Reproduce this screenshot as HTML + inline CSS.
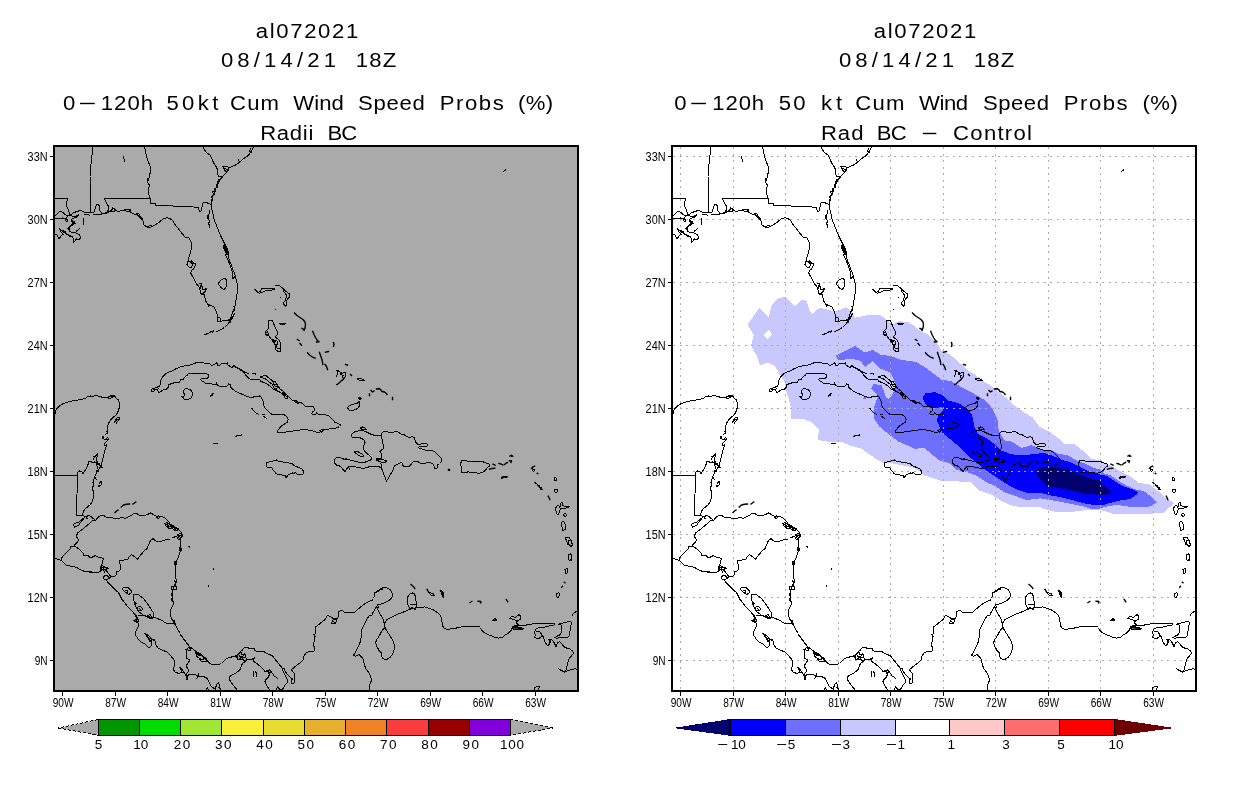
<!DOCTYPE html>
<html><head><meta charset="utf-8"><title>al072021 wind speed probs</title>
<style>html,body{margin:0;padding:0;background:#fff;}body{width:1236px;height:800px;overflow:hidden;font-family:"Liberation Sans",sans-serif;}svg{display:block;will-change:transform;}text{font-family:"Liberation Sans",sans-serif;fill:#000;}</style>
</head><body>
<svg width="1236" height="800" viewBox="0 0 1236 800">
<rect x="0" y="0" width="1236" height="800" fill="#ffffff"/>
<defs>
<clipPath id="clipL"><rect x="54.0" y="146.0" width="524.0" height="544.6"/></clipPath>
<clipPath id="clipR"><rect x="672.0" y="146.0" width="524.0" height="544.6"/></clipPath>
<g id="coast" fill="none" stroke="#000" stroke-width="1" stroke-linejoin="round" stroke-linecap="square" shape-rendering="crispEdges">
<path d="M93.0,147.0 L91.4,160.0 L90.0,176.0 L90.4,196.0 L91.0,212.4 M150.0,198.6 L104.4,198.6 L107.0,204.0 L109.0,207.0 L108.0,212.0 M123.1,156.3 L124.0,159.0 L124.8,161.8 M54.4,198.6 L67.6,198.6 L66.0,204.0 L69.0,212.0 L70.0,216.0 M70.0,215.5 L74.0,212.5 L80.0,210.5 L82.0,211.0 L84.0,212.2 L90.0,212.0 L94.0,212.0 L96.5,205.0 L98.0,204.0 L99.5,206.0 L100.0,211.0 L102.0,213.5 L106.0,213.5 L108.0,210.0 L110.0,212.0 L112.5,208.0 L115.0,209.0 L116.5,211.0 L120.0,211.0 L124.0,210.0 L126.0,209.5 L130.0,209.5 L130.5,212.0 L134.0,214.0 L137.0,214.5 L140.0,217.0 L142.0,219.5 L143.5,222.0 L144.0,225.0 L146.0,226.5 L148.5,228.0 L151.0,227.0 L154.0,225.5 L156.5,224.0 L159.0,222.5 L161.0,220.5 L164.0,218.5 L167.0,217.8 L170.0,218.5 M111.0,210.0 L114.0,208.5 L116.0,210.0 L114.0,211.5 L111.5,211.5 M124.5,210.0 L129.0,209.2 L130.0,211.0 L127.0,211.8 L124.5,210.0 M136.0,214.0 L138.5,213.5 L140.5,216.5 L142.5,219.0 L140.5,218.5 L138.0,216.0 L136.0,214.0 M147.5,227.0 L149.5,225.5 L152.0,226.0 L150.0,228.0 L147.5,227.0 M85.0,214.5 L90.0,215.2 M93.0,214.7 L97.0,215.0 L102.0,214.5 M105.5,213.0 L107.5,212.0 L109.0,213.0 M54.0,217.0 L56.0,215.0 L59.5,211.5 L63.0,212.2 L65.0,214.5 L67.5,216.0 L70.0,215.5 M67.5,216.0 L66.0,218.5 L62.5,218.0 L60.0,218.5 L56.0,218.2 L54.0,218.5 M65.5,220.0 L67.0,219.5 L68.0,221.0 L66.5,221.8 L65.5,220.0 M70.0,215.5 L75.0,217.0 L79.0,214.5 L77.0,217.0 L73.0,218.5 L71.0,220.0 L74.0,221.5 L75.0,223.5 L72.5,225.0 L69.5,226.5 L68.0,228.5 L69.5,231.0 L72.0,232.5 L76.0,233.0 L79.0,234.5 L80.5,237.0 L79.5,240.0 L76.5,239.0 L75.0,241.0 L73.5,242.0 L74.0,239.5 L72.5,237.0 L70.0,235.5 L67.0,234.0 L65.0,231.5 L62.0,230.5 L59.5,229.0 L61.0,232.0 L63.0,234.5 L61.0,236.0 L59.0,239.0 L58.0,237.0 L57.0,235.0 L54.5,234.0 M71.5,221.0 L73.5,223.0 L71.5,224.5 L69.0,227.0 L70.0,230.0 M83.5,219.0 L83.7,224.5 M79.2,228.5 L78.5,229.5 M77.0,230.5 L76.2,231.5 M60.0,230.0 L62.5,231.5 L65.0,233.0 L67.5,234.8 L70.5,236.5 M253.5,147.0 L252.0,150.0 L250.0,153.0 L248.5,155.5 L245.0,157.5 L242.0,160.0 L239.0,162.5 L236.5,164.5 L233.0,166.2 L229.5,167.5 L228.0,170.0 L226.0,173.0 L223.5,175.5 L221.5,178.0 L219.5,180.5 L218.0,183.5 L216.5,187.0 L215.0,190.5 L214.0,193.5 L212.5,196.5 L211.8,200.0 L211.2,204.0 L211.5,208.0 L212.5,212.0 L213.5,216.0 L214.2,220.0 M250.5,148.5 L249.5,151.0 L251.5,152.0 L252.0,150.0 M238.5,160.0 L239.5,162.5 M222.5,166.5 L225.0,167.0 L227.5,166.5 L229.0,168.5 L228.0,171.0 L226.0,172.0 L224.5,170.0 L223.5,168.0 L222.5,166.5 M225.0,168.5 L227.0,169.5 M219.0,179.5 L217.0,182.0 L219.0,183.0 L216.0,185.0 L217.5,187.0 L214.5,189.0 L216.0,191.0 L212.0,192.0 L214.5,194.0 L211.5,197.0 L213.0,199.0 L211.2,202.0 M210.0,210.0 L209.0,214.0 L208.0,217.0 L209.0,220.0 M203.2,147.0 L204.5,150.0 L207.0,153.0 L210.0,155.0 L211.5,158.0 L213.0,161.5 L214.5,164.5 L216.5,167.0 L217.5,170.0 L217.8,173.5 L218.2,176.5 L221.0,176.5 M144.5,147.0 L145.5,151.0 L146.5,156.0 L148.0,161.0 L150.0,166.0 L151.0,172.0 L149.5,174.5 L149.0,178.0 L147.5,179.0 L148.0,183.0 L149.5,185.0 L148.5,189.0 L148.2,193.0 L149.5,196.0 L150.0,198.0 L150.5,203.0 L152.5,204.0 L155.0,203.5 L155.5,205.0 M147.5,178.5 L148.5,180.0 L147.5,182.0 L148.8,184.0 M155.5,205.0 L169.0,205.8 L183.0,206.5 L198.0,207.2 L199.0,210.0 L200.0,212.0 L201.5,211.5 L202.0,207.0 L203.0,203.0 L205.0,202.2 L209.0,203.5 L211.2,204.5 M170.0,218.5 L173.0,221.0 L175.0,224.5 L178.0,228.0 L180.0,231.0 L183.0,234.5 L185.0,237.0 L188.5,237.5 L190.5,240.5 L191.8,244.0 L191.5,248.0 L190.5,252.5 L189.0,257.0 L188.5,260.0 L189.5,261.5 L191.5,261.0 L193.5,263.0 L195.5,264.0 L195.0,266.5 L193.0,269.5 L191.5,270.5 L190.5,273.0 L191.5,275.0 L193.0,277.0 L194.5,280.0 L196.0,283.0 L197.5,285.0 L199.0,287.0 L200.0,290.0 L201.0,294.0 M188.5,260.0 L187.0,264.5 L189.5,267.5 L191.5,267.0 L193.0,265.0 L191.5,263.0 L190.0,262.0 M190.5,272.5 L191.8,273.5 M199.0,284.0 L201.0,283.5 L202.0,286.5 L203.0,290.0 L205.5,288.5 L206.5,289.0 L204.0,293.0 L202.0,294.5 L200.0,292.0 M200.0,285.0 L200.5,289.0 M208.0,215.0 L207.5,218.0 L209.5,221.0 L208.5,224.0 L210.0,226.0 L209.0,228.0 M214.2,220.0 L214.8,222.0 L216.0,224.0 L217.5,228.0 L219.5,233.0 L221.5,237.5 L223.5,241.5 L225.5,245.0 L227.0,248.0 L228.5,252.0 L228.0,255.0 L229.0,259.0 L230.5,263.0 L232.0,267.0 L233.5,271.0 L235.0,275.0 L236.0,279.0 L237.2,284.0 L238.0,288.0 L237.8,291.0 M223.0,246.0 L224.5,245.0 L226.0,248.0 L227.5,252.0 L227.0,255.0 L226.0,253.0 L224.5,250.0 L223.0,246.0 M224.5,247.0 L226.5,252.5 M225.5,255.0 L228.0,260.0 L230.0,265.0 L232.0,271.0 L232.5,275.0 L233.0,279.0 L234.5,277.0 M218.0,284.0 L221.0,280.0 L224.0,278.2 L226.5,279.5 L227.0,284.0 L225.5,288.0 L224.0,289.5 L221.5,288.0 L218.0,284.0 M255.0,289.5 L258.0,292.5 L260.0,291.5 L262.0,288.5 L266.0,289.0 L270.0,288.5 L274.0,288.0 L274.5,289.5 L270.0,290.5 L265.0,291.0 L260.5,293.0 L259.0,293.2 M201.0,294.0 L202.0,294.5 L204.0,294.0 L205.0,298.0 L206.0,301.5 L208.0,304.5 L211.0,305.5 L213.5,306.5 L215.0,309.0 L216.5,312.5 L217.5,316.0 L217.0,319.0 L218.5,321.5 L221.0,322.0 L222.5,320.5 L225.5,321.0 L228.5,320.0 L231.0,318.0 L233.0,316.0 L234.5,314.0 M201.5,294.5 L203.5,293.5 L205.0,291.0 L206.5,288.5 M217.0,319.0 L218.0,317.5 L220.0,318.0 L221.0,320.0 L219.5,321.8 L217.5,321.0 L217.0,319.0 M207.5,303.5 L208.5,306.0 M237.7,286.5 L237.5,289.0 L237.0,294.0 L236.2,299.0 L235.5,304.0 L234.5,308.0 L233.0,311.0 L232.0,314.0 L231.0,317.0 L230.0,320.0 L229.5,322.5 M234.0,306.5 L235.0,309.0 L233.5,311.5 M205.0,334.5 L208.0,333.5 L211.0,332.0 L213.5,331.0 M210.5,331.5 L212.5,332.0 M217.0,331.5 L221.0,329.5 L224.5,327.5 L227.5,324.5 L230.0,321.5 L232.0,318.5 L234.0,315.0 M229.5,319.5 L231.0,321.0 L230.0,323.0 M276.0,285.5 L280.0,286.0 L282.5,288.0 L285.0,290.5 L287.5,292.5 L289.5,294.0 L289.5,297.5 L287.5,298.5 L286.5,301.0 L286.5,304.5 L285.5,306.5 L284.0,304.5 L283.5,302.5 L285.0,301.0 L286.0,298.0 L286.5,295.0 L284.5,292.5 L283.0,290.0 M268.5,321.0 L270.0,320.0 L272.5,321.0 L274.0,324.5 L275.5,328.0 L277.5,331.5 L277.0,335.0 L275.0,337.0 L277.0,338.5 L278.5,339.5 L280.0,342.0 L280.5,346.0 L280.5,351.0 L278.0,351.5 L276.0,350.0 L275.5,346.0 L274.5,343.0 L272.5,341.0 L270.5,338.0 L268.5,335.5 L266.5,335.0 L265.2,333.0 L266.0,331.0 L268.0,329.0 L269.0,325.0 L268.5,321.0 M274.0,340.5 L277.0,341.0 L278.0,344.0 L276.0,345.0 L277.0,348.0 L279.5,348.5 M273.0,339.5 L275.0,342.0 L276.0,340.5 M266.0,332.5 L267.5,332.0 L268.5,334.0 L267.0,335.0 L265.5,334.0 L266.0,332.5 M280.0,323.5 L283.0,324.0 L286.0,323.2 L283.5,324.8 L280.5,324.5 L280.0,323.5 M151.0,390.0 L152.5,388.5 L155.0,388.0 L157.5,387.0 L159.5,386.5 L160.5,384.0 L160.5,381.0 L161.5,378.5 L163.5,376.0 L166.0,373.5 L169.0,372.0 L173.0,370.5 L176.5,368.5 L180.0,367.0 L184.0,366.0 L188.0,365.5 L192.0,364.5 L195.5,363.0 L198.5,362.2 L202.5,362.5 L206.0,363.5 L210.0,364.0 L211.5,365.5 L214.0,364.5 L216.0,363.5 L217.0,362.5 L217.5,365.5 L219.0,366.0 L221.0,364.0 L223.0,363.5 L225.0,364.0 L227.5,362.5 L228.0,365.0 L230.0,366.5 L232.5,367.5 L234.0,365.0 L235.5,367.0 L237.5,368.5 L240.0,369.5 L244.5,373.0 L246.0,375.5 L248.0,377.5 L250.0,379.0 L254.0,379.5 L257.0,379.5 L260.0,380.0 M234.0,366.5 L237.5,368.0 L240.0,369.0 L243.0,371.0 L246.0,372.5 L249.0,374.0 M151.0,390.0 L152.0,391.5 L154.0,391.0 L155.5,389.5 L157.5,390.0 L159.0,392.5 L161.5,391.0 L164.0,389.5 L166.5,389.0 L168.5,387.0 L169.0,384.5 L172.0,383.5 L175.0,382.5 L179.0,382.5 L180.5,380.0 L183.0,379.5 L185.0,377.0 L187.0,375.5 L189.0,373.0 L193.0,373.5 L197.0,373.5 L202.0,373.5 L206.0,373.5 L208.5,375.0 L208.8,377.0 L207.0,378.5 L203.0,378.5 L200.0,379.2 L202.0,381.0 L204.5,382.5 L206.5,384.0 L210.0,383.5 L213.5,384.5 L216.0,385.0 L216.5,382.5 L217.2,385.0 L219.0,386.2 L223.0,386.2 L227.0,386.2 L228.5,384.0 L230.0,384.5 L230.5,387.0 L232.5,389.0 L235.0,391.0 L237.5,392.5 L240.0,393.5 L243.0,394.5 L246.0,396.0 L249.0,397.0 L252.0,397.5 L255.0,396.5 L258.0,396.0 L260.0,396.2 M152.5,388.5 L153.5,390.0 L155.5,389.5 M157.5,387.0 L158.5,388.5 L157.5,390.0 M183.5,390.5 L185.5,388.5 L188.0,389.0 L190.0,389.5 L192.0,391.5 L192.5,394.5 L191.5,397.5 L189.0,399.0 L186.0,399.5 L184.0,399.0 L182.5,397.0 L181.2,396.2 L183.5,396.5 L184.5,395.0 L183.8,393.0 L183.5,390.5 M210.0,396.0 L211.5,394.5 L213.5,393.2 L212.5,395.0 L210.5,396.5 L210.0,396.0 M259.5,379.5 L261.0,381.5 L264.0,382.5 L267.0,384.0 L270.0,386.0 L272.5,388.5 L275.0,390.0 L278.0,391.5 L281.0,393.0 L284.0,395.0 L286.5,396.5 L289.0,397.0 L291.5,399.5 L293.0,401.0 L296.0,400.5 L298.0,402.5 L301.0,402.5 L303.0,404.0 L305.0,406.0 L308.0,406.2 L311.0,406.5 L313.5,407.0 L314.5,409.0 L314.0,411.0 L312.5,412.0 L311.5,413.5 L313.0,414.8 L315.5,414.5 L316.5,413.0 L319.0,414.5 L322.0,414.8 L326.0,415.0 L329.0,416.0 L331.0,418.0 L333.0,420.0 L335.0,422.5 L338.0,423.2 L340.5,425.0 L339.5,426.5 L336.5,428.0 L333.0,428.5 L329.0,429.0 L326.0,430.0 L324.0,429.0 L322.5,431.5 L320.0,432.0 L317.0,432.2 L314.5,431.5 L312.0,430.5 L308.0,430.0 L304.0,429.5 L300.0,430.0 L296.0,430.5 L292.0,431.2 L288.0,431.8 L284.0,432.2 L280.0,432.8 L277.8,433.0 L277.2,431.5 L278.5,429.5 L280.0,427.5 L282.0,425.5 L284.5,424.0 L287.0,422.5 L288.2,420.0 L287.5,417.5 L285.5,415.5 L283.5,414.5 L280.0,415.0 L277.0,414.8 L274.0,415.0 L271.5,414.0 L269.5,412.5 L267.5,410.5 L265.5,408.5 L264.0,406.0 L263.5,403.0 L262.5,399.5 L261.0,397.0 L259.5,395.5 M260.0,377.0 L263.0,376.0 L265.5,375.2 L267.5,377.0 L270.0,379.0 L273.0,381.0 L275.5,381.5 L276.5,384.0 L278.5,386.5 L279.5,388.5 L281.5,390.0 L284.0,392.0 L286.0,394.0 L287.8,395.5 L287.5,398.0 L285.5,398.5 L284.0,396.0 L282.0,394.0 L280.0,392.0 L277.5,390.5 L275.0,389.5 L273.5,387.0 L272.5,384.5 L270.5,383.0 L268.0,381.0 L265.5,379.0 L263.0,378.0 L260.0,377.0 M273.0,381.5 L275.0,386.0 L277.5,387.0 M274.0,388.0 L276.5,389.0 M283.0,392.5 L285.5,395.0 L284.5,397.0 M273.5,384.0 L276.0,385.0 M292.0,400.0 L294.5,401.2 L297.0,403.2 L299.0,404.0 M253.0,373.5 L255.5,374.0 M252.0,408.5 L254.0,411.0 L256.0,413.0 L258.5,414.5 M262.0,414.5 L264.5,414.5 M264.0,416.5 L266.5,418.5 M347.5,408.0 L349.0,406.0 L351.5,404.5 L354.5,404.0 L357.0,403.5 L358.5,402.0 L359.8,401.0 L360.0,404.0 L359.0,406.5 L357.5,408.5 L355.0,409.8 L352.0,410.5 L349.0,410.0 L347.5,408.0 M358.5,398.0 L360.0,397.2 L361.2,398.5 L360.0,399.5 L358.5,398.0 M320.0,430.5 L323.0,429.0 L321.5,432.0 M336.2,370.5 L338.5,371.0 L340.0,372.0 L342.0,373.5 L344.0,372.5 L345.5,373.0 L345.8,375.5 L344.5,377.5 L343.0,379.5 L340.5,381.5 L338.5,383.5 L337.0,384.5 M338.0,371.5 L337.5,374.5 L336.5,376.0 M340.5,372.5 L341.0,374.5 L343.5,375.5 L342.5,377.0 M357.5,378.3 L360.5,378.5 L363.5,379.3 L364.8,380.8 L362.0,380.5 L359.0,380.0 L357.5,379.5 L357.5,378.3 M351.5,436.0 L352.0,434.0 L354.0,432.2 L357.0,431.2 L360.0,430.8 L363.0,430.5 L365.5,431.5 L368.0,432.8 L371.0,434.2 L374.0,435.2 L377.0,435.0 L379.0,435.8 L381.5,435.0 L382.0,433.0 L384.0,431.5 L387.0,431.8 L389.5,432.5 L392.0,433.0 L394.0,431.8 L397.0,431.2 L399.0,432.5 L400.5,433.8 L403.5,434.5 L406.0,435.8 L408.0,437.0 L410.5,437.2 L412.5,436.5 L414.0,437.5 L415.0,440.0 L416.0,442.5 L417.5,444.0 L419.5,444.5 L422.0,443.5 L425.0,443.2 L427.0,444.0 L427.2,445.8 L425.5,446.5 L422.5,446.8 L420.0,446.5 L418.5,447.5 L419.5,448.8 L422.0,449.0 L425.0,450.0 L428.5,450.8 L432.0,450.8 L434.5,451.5 L436.5,453.5 L438.5,455.5 L440.5,457.5 L441.8,459.5 L441.0,462.0 L439.5,463.5 L438.0,464.5 L437.5,467.5 L436.2,469.0 L434.5,468.5 L434.0,466.0 L433.0,464.0 L431.0,463.0 L428.5,462.5 L426.0,463.0 L423.0,463.5 L420.0,463.0 L418.0,461.5 L415.0,461.2 L412.5,462.2 L411.0,464.5 L409.5,466.0 L407.0,466.8 L404.5,467.0 L403.0,465.5 L402.2,463.0 L400.5,462.5 L399.0,463.5 L396.5,464.8 L394.5,466.0 L393.5,468.5 L392.5,471.0 L391.0,473.5 L389.5,476.0 L388.0,479.0 L386.5,481.0 L385.5,479.5 L385.0,477.0 L384.0,475.0 L383.0,472.0 L382.0,469.5 L380.5,467.5 L378.5,466.5 L375.5,466.2 L372.0,466.5 L368.5,467.0 L365.0,468.0 L362.0,468.2 L359.0,467.8 L356.0,467.0 L353.0,466.5 L350.0,466.5 L348.0,467.0 L346.5,469.0 L345.0,471.5 L343.5,470.0 L342.0,468.0 L339.5,466.0 L336.5,465.0 L334.8,463.5 L334.2,461.0 L335.0,459.0 L337.0,457.5 L339.5,457.5 L342.0,458.5 L345.0,459.5 L347.5,459.2 L350.0,460.0 L353.0,460.8 L356.0,461.5 L359.0,462.2 L362.0,462.5 L365.0,462.2 L367.5,461.2 L370.0,460.5 L371.5,459.0 L371.0,457.0 L369.5,455.5 L367.5,454.0 L365.5,452.0 L364.0,450.0 L363.2,447.5 L364.0,445.0 L365.0,442.5 L364.5,440.5 L362.5,439.0 L360.0,437.8 L357.0,437.2 L354.0,437.5 L352.0,437.0 L351.5,436.0 M360.5,428.0 L362.5,427.0 L364.5,427.8 L366.5,429.2 L364.5,429.8 L362.0,429.5 L360.5,428.0 M354.5,452.0 L356.5,451.2 L359.0,452.2 L361.5,453.8 L363.5,455.5 L363.0,456.8 L360.5,456.2 L358.0,454.8 L355.8,453.5 L354.5,452.0 M381.5,435.0 L382.0,439.0 L382.5,442.5 L383.5,445.5 L383.5,448.5 L381.5,450.0 L379.5,451.8 L381.5,453.2 L382.0,456.0 L381.0,458.5 L379.5,459.5 M380.0,463.0 L382.0,465.0 L381.5,467.5 L382.0,469.5 M376.5,459.0 L378.5,458.5 L381.0,459.5 L384.0,460.0 L386.5,461.0 L385.5,462.2 L383.0,462.5 L380.5,461.8 L378.0,461.0 L376.5,460.2 L376.5,459.0 M376.8,459.2 L378.8,459.0 L378.5,460.2 L377.0,460.0 M345.0,459.0 L346.5,458.5 L348.0,460.0 M346.5,469.0 L348.5,467.5 L349.5,469.0 M364.0,441.0 L365.2,443.0 M266.0,465.0 L266.5,463.0 L269.0,462.0 L272.5,461.8 L273.5,460.2 L276.5,460.0 L278.5,461.2 L282.0,461.8 L285.0,462.5 L288.5,463.0 L292.0,463.5 L293.5,465.2 L296.0,466.5 L299.0,467.5 L301.5,468.5 L303.0,470.5 L303.8,472.5 L303.0,474.2 L300.0,474.5 L297.0,474.0 L295.5,472.5 L293.0,473.2 L290.0,474.0 L288.0,475.0 L287.5,477.0 L285.5,477.2 L284.5,475.5 L281.5,474.8 L278.5,474.5 L276.0,473.5 L274.5,471.5 L273.2,470.2 L272.0,468.0 L269.0,467.8 L266.5,466.8 L266.0,465.0 M285.0,475.8 L287.2,476.2 M292.5,472.8 L294.0,473.5 M460.5,464.0 L461.5,461.0 L463.5,460.2 L466.5,461.0 L470.0,461.2 L474.0,461.2 L478.0,461.2 L480.0,461.0 L482.5,461.5 L484.5,462.5 L487.0,463.2 L489.0,464.0 L489.2,466.2 L487.5,467.5 L486.2,469.5 L484.5,471.0 L482.5,472.2 L480.0,473.0 L478.0,473.5 L475.5,472.2 L473.0,472.0 L470.0,472.2 L468.0,471.8 L465.5,473.0 L463.0,472.5 L461.2,472.5 L461.2,469.5 L461.8,467.0 L460.5,465.5 L460.5,464.0 M501.2,478.2 L502.5,477.0 L505.0,476.5 L508.0,476.5 L506.0,477.5 L503.0,478.0 L501.2,478.2 M532.5,469.0 L534.0,469.5 L534.5,471.0 L533.0,471.2 L532.2,470.0 L532.5,469.0 M554.5,477.8 L556.0,478.0 L556.5,479.5 L556.5,481.0 L555.0,480.8 L554.5,479.5 L554.5,477.8 M554.5,490.0 L556.0,489.2 L557.5,490.0 L557.8,491.8 L556.0,492.5 L554.5,491.5 L554.5,490.0 M537.5,484.5 L539.0,485.5 L540.0,487.0 L541.5,488.0 L542.5,490.0 L541.0,489.5 L539.5,487.5 L538.0,486.0 L537.5,484.5 M555.7,508.2 L556.7,506.0 L558.7,505.7 L560.2,508.2 L559.7,512.0 L558.2,514.7 L556.3,513.5 L555.7,508.2 M560.2,506.7 L560.8,503.0 L562.0,502.2 L562.7,505.2 L565.0,506.7 L568.0,506.3 L569.5,506.7 L565.7,508.2 L562.7,508.7 L560.2,508.2 M563.8,514.2 L565.7,513.5 L566.8,515.0 L565.3,516.5 L563.8,515.7 L563.8,514.2 M54.0,414.0 L55.5,410.5 L57.0,408.5 L59.5,406.0 L62.5,404.0 L66.0,402.5 L70.0,401.5 L74.5,400.5 L79.0,399.8 L83.0,399.0 L86.0,398.0 L88.0,396.5 L90.5,396.0 L93.0,396.2 L95.5,395.5 L98.0,396.0 L101.0,396.8 L103.0,397.8 L106.0,397.5 L108.5,397.0 L111.0,396.5 L113.5,395.2 L115.0,396.5 L116.5,398.5 L118.0,399.5 L119.0,402.0 L119.5,405.0 L119.2,408.0 L118.2,411.0 L116.8,414.0 L115.0,416.0 L113.0,417.5 L111.0,419.5 L109.5,421.5 L108.2,424.0 L107.5,427.0 L107.0,430.0 L107.2,432.5 L106.0,434.0 L104.5,435.5 L103.0,436.5 L102.8,438.5 L104.5,439.5 L106.5,439.0 L107.5,437.5 L108.5,439.0 L107.0,441.0 L105.5,442.5 L104.0,444.0 L105.0,445.5 L107.0,444.5 L106.0,447.0 L105.0,450.0 L104.2,453.0 L103.5,456.0 L102.8,459.0 L102.5,460.2 M108.0,397.0 L110.5,396.0 L113.5,395.5 L112.5,397.5 L110.0,398.5 L108.0,398.0 L108.0,397.0 M114.5,422.5 L116.0,419.5 L117.5,417.5 L119.5,417.2 L119.0,419.5 L117.5,421.5 L116.2,423.8 M115.5,421.0 L117.2,419.5 M93.0,460.0 L94.5,457.0 L96.0,455.0 L97.5,453.5 L97.0,457.0 L96.8,460.0 L97.5,462.5 M94.0,456.5 L95.5,455.5 M54.5,410.5 L56.0,411.0 L55.5,413.0 M102.5,436.5 L104.0,438.0 M106.5,431.5 L107.5,433.0 M102.8,458.5 L102.0,462.0 L101.0,465.5 L102.5,468.0 L100.5,467.0 L99.0,469.0 L98.0,472.0 L97.0,470.0 L96.5,472.5 L95.5,475.0 L94.5,477.5 L93.5,480.0 L93.0,482.5 L93.5,485.0 L92.5,488.0 L93.0,490.5 L94.0,493.5 L93.5,497.0 L92.8,500.0 L91.5,503.0 L90.0,505.0 L88.0,506.5 L85.5,508.5 L84.0,510.5 L83.0,513.0 L81.8,515.5 M89.0,461.5 L91.0,461.0 L92.5,463.0 L94.5,462.0 L96.5,462.5 L97.5,464.5 L99.5,463.5 L100.0,466.0 L101.5,467.0 M94.0,458.0 L95.5,456.0 L97.0,455.0 M97.0,459.0 L96.5,462.5 L97.0,466.0 L97.5,469.0 M89.0,461.5 L88.0,464.5 L86.5,468.0 L84.5,471.5 L83.0,474.0 L82.0,472.0 L79.5,471.0 L77.5,472.5 L77.2,475.5 M77.2,475.5 L77.0,495.0 L76.8,505.0 L76.8,515.5 L81.8,515.5 M54.0,475.5 L77.2,475.5 M100.5,481.5 L101.5,482.0 L101.2,484.5 L100.0,486.0 L98.5,486.5 L99.5,484.5 L100.0,482.5 L100.5,481.5 M95.5,478.0 L96.5,479.5 M93.5,481.5 L94.0,483.0 M81.8,515.5 L84.0,516.0 L86.5,517.5 L88.0,515.0 L90.0,516.0 L92.0,517.5 L94.0,519.0 L95.5,520.5 M73.5,524.5 L76.0,523.0 L79.0,522.2 L82.0,519.0 L84.5,517.5 L82.5,520.0 L80.0,523.0 L79.0,525.0 L76.5,526.2 L74.5,527.2 L73.5,524.5 M86.8,518.2 L87.4,518.8 M95.5,520.5 L98.0,517.5 L100.5,515.5 L103.0,515.2 L105.5,516.5 L107.0,518.0 L110.0,517.5 L114.0,518.2 L118.0,518.2 L122.0,517.8 L126.0,518.2 L129.0,516.5 L132.0,514.8 L134.5,513.2 L137.0,513.5 L139.0,515.0 L142.0,515.2 L146.0,515.0 L148.5,514.0 L150.5,513.0 L153.0,514.2 L155.0,515.5 L157.5,516.5 L160.0,516.2 L162.0,516.5 L164.5,517.5 L166.5,519.5 L168.5,521.5 L170.0,523.0 M156.5,517.0 L158.5,516.0 L160.0,517.2 L158.0,518.5 L156.5,517.0 M95.5,520.5 L93.0,520.0 L90.0,523.0 L87.0,525.5 L84.0,528.0 L81.0,530.5 L78.0,532.5 L77.0,535.0 M164.5,523.5 L167.0,522.5 L170.0,524.0 L173.0,525.5 L176.0,527.5 L178.5,529.0 L177.0,530.5 L174.5,530.0 L172.0,528.5 L170.0,529.0 L168.0,527.5 L166.0,526.0 L164.5,523.5 M167.0,523.0 L169.0,528.0 M170.0,524.5 L172.0,528.5 M174.0,526.5 L176.0,530.0 M165.5,524.5 L170.0,526.5 L175.0,528.5 M178.0,534.5 L180.0,533.5 L182.0,534.5 L182.5,536.0 L180.5,538.0 L179.0,539.5 L177.5,538.5 L178.5,536.5 L178.0,534.5 M179.0,537.0 L180.5,535.5 M179.5,548.0 L181.5,548.5 L181.5,550.5 L179.8,550.5 L179.5,548.0 M174.5,561.5 L176.5,561.0 L176.5,565.0 L174.5,564.0 L174.5,561.5 M77.5,532.5 L76.5,535.0 L77.0,537.5 L78.5,540.0 L77.0,542.5 L75.0,544.5 L74.5,546.5 M74.5,546.5 L71.0,546.5 L70.0,549.0 L67.5,551.5 L65.0,554.0 L63.0,556.0 L61.2,558.5 L61.5,560.5 M54.0,557.8 L58.0,559.5 L61.5,560.5 L63.5,562.5 L66.0,565.0 L70.0,566.0 L73.5,566.8 L76.5,567.2 L79.0,569.0 L82.0,570.5 L85.0,571.5 L88.5,572.0 L92.0,572.5 L95.5,573.0 L98.5,572.5 L100.5,571.0 L102.0,569.5 M85.0,571.0 L88.5,571.5 L92.0,572.0 M74.5,546.5 L77.0,547.5 L79.5,549.5 L82.0,552.0 L84.0,554.0 L83.0,556.0 L85.5,555.5 L88.5,556.0 L90.0,558.0 L92.5,557.0 L95.5,555.5 L98.0,557.0 L101.0,557.5 L103.5,559.0 L102.5,561.5 L102.0,564.5 L101.5,567.0 L102.0,569.5 M100.5,567.0 L102.0,565.5 L104.5,567.0 L107.5,568.0 L106.0,570.0 L104.5,572.0 L103.0,569.5 L100.5,569.0 L100.5,567.0 M101.0,566.0 L106.0,571.0 M104.0,566.0 L103.5,571.0 M101.5,570.0 L108.0,568.5 M106.0,570.0 L108.0,573.0 L110.0,575.5 L110.5,577.0 M110.0,576.5 L114.0,576.5 L116.0,575.5 L116.5,572.0 L119.0,571.0 L121.0,569.0 L120.5,565.5 L119.5,562.5 L120.0,560.5 L124.0,560.0 L127.5,559.5 L129.5,556.5 L131.5,554.5 L133.5,556.0 L136.0,558.0 L137.5,559.0 L139.5,556.5 L142.0,553.5 L144.5,550.5 L147.0,548.5 L148.5,545.0 L150.5,540.5 L153.0,538.5 L155.0,540.5 L159.0,542.0 L163.0,540.5 L167.0,539.5 L170.0,539.0 M103.5,577.0 L105.0,575.5 L107.5,576.0 L109.5,578.0 L108.0,579.0 L106.0,580.0 L104.0,579.0 L103.5,577.0 M106.0,580.0 L108.5,583.0 L111.0,585.5 L113.5,588.0 L116.0,590.5 L118.5,592.5 L120.0,595.5 L121.5,598.5 L122.5,600.0 M171.5,586.5 L174.0,586.0 L176.5,586.5 L176.5,589.5 L174.0,589.8 L171.5,589.0 L171.5,586.5 M174.0,580.0 L175.5,582.0 L175.0,586.0 M172.5,591.0 L171.5,595.0 L172.8,597.0 L171.2,600.0 L172.5,601.5 M172.0,594.0 L173.0,596.0 L171.8,598.5 M172.5,619.5 L174.0,620.5 L175.5,624.0 L174.0,623.0 L172.5,619.5 M137.0,608.0 L139.0,606.5 L141.5,607.2 L142.5,609.5 L140.5,611.0 L138.0,610.5 L137.0,608.0 M139.0,608.0 L140.5,609.5 M148.0,615.5 L150.0,614.5 L151.5,616.5 L152.5,618.5 L150.0,619.0 L148.5,617.5 L148.0,615.5 M134.5,601.5 L136.0,603.5 L135.0,604.5 M134.0,620.5 L135.5,619.5 L138.0,619.2 L138.5,621.0 L136.5,622.0 L134.5,621.8 L134.0,620.5 M146.5,636.0 L148.5,638.5 L150.0,642.0 L151.5,641.0 M145.0,633.5 L148.0,637.5 L152.5,640.0 L154.0,639.5 M123.0,588.0 L126.0,587.2 L128.5,587.8 L131.0,590.5 L131.5,592.5 L129.0,594.5 L126.5,593.0 L124.0,591.0 L122.5,589.5 L123.0,588.0 M125.0,590.0 L127.5,591.0 L128.0,593.0 M180.0,634.0 L183.0,638.0 L186.0,642.0 L189.0,646.0 L192.0,648.5 L195.0,650.5 L197.5,652.5 L200.5,654.0 L203.0,656.5 L205.5,659.0 L207.5,661.0 L210.0,663.5 L214.0,665.0 L218.0,664.5 L221.5,663.5 L224.0,661.0 L226.0,659.0 L229.0,657.5 L232.5,656.8 L235.5,656.0 L238.0,654.5 L240.0,652.0 L242.5,650.0 L244.0,648.0 L246.0,647.2 L249.0,648.2 L252.0,649.0 L254.5,648.5 L254.2,650.5 L257.0,651.2 L260.0,651.2 L263.5,651.2 L266.0,653.0 L269.5,654.5 L272.5,656.0 L274.5,658.5 L276.5,661.0 L278.5,663.5 L280.5,666.0 L282.0,668.0 L284.0,668.0 L285.0,671.0 L287.0,674.0 L289.0,676.0 L291.0,678.0 L292.0,679.5 M300.0,663.0 L297.0,665.0 L294.0,667.5 L291.5,669.5 L292.5,671.5 L294.0,673.0 L294.2,677.0 L294.5,681.0 L294.0,683.5 L291.5,683.5 L291.2,680.5 L291.5,678.5 L293.0,678.0 M282.0,668.0 L283.0,671.0 L284.5,674.0 L286.0,677.0 L287.5,680.0 L287.8,682.5 L286.0,684.0 L284.5,686.0 L283.0,688.5 L281.5,690.0 L279.5,689.0 L277.5,687.0 L276.5,689.0 L277.5,690.5 M236.5,657.0 L239.0,654.0 L241.0,652.0 L242.0,655.0 L245.0,653.5 L245.5,657.0 L246.5,659.5 L245.0,662.0 L243.5,660.0 L241.0,659.0 L239.0,659.5 L237.0,659.0 L238.0,657.0 L236.5,657.0 M238.0,654.0 L244.0,660.0 M240.0,658.5 L245.0,654.0 M239.0,656.0 L246.0,658.0 M245.0,662.0 L242.5,663.5 L241.2,666.0 L240.5,669.0 L238.5,671.0 L236.0,673.0 L233.0,674.5 L230.5,675.5 L229.5,677.5 L230.0,680.5 L231.5,683.0 L233.5,685.5 L235.5,688.0 L237.5,690.5 M245.0,660.5 L248.0,659.8 L250.5,659.5 L253.5,658.5 L255.0,657.2 L253.0,659.5 L253.5,661.5 L255.5,662.5 L258.0,664.5 L260.5,666.5 L263.0,669.0 L265.0,671.5 L267.5,672.0 L269.5,670.0 L271.0,671.5 L269.5,674.0 L268.5,677.0 L266.0,679.5 L265.0,681.5 L266.0,684.0 L267.5,687.0 L269.5,689.5 L270.5,690.5 M271.0,671.5 L273.0,674.0 L274.0,676.0 L276.0,677.0 L277.5,678.5 M267.0,670.5 L270.0,673.0 M269.0,670.0 L268.0,674.0 M253.5,672.0 L253.8,676.5 M255.5,672.0 L256.8,673.0 L256.2,676.5 M186.0,649.5 L189.0,647.5 L191.0,649.0 L190.0,650.5 L188.0,650.0 L186.0,649.5 M195.5,652.5 L197.5,653.5 L199.5,654.5 L201.0,656.0 L199.0,655.5 L196.5,654.5 L195.5,652.5 M196.0,655.0 L197.5,657.0 L200.0,658.5 L201.5,660.0 L203.5,659.0 L205.5,657.5 L207.0,659.5 L206.0,661.5 L204.0,661.0 L201.5,661.5 L199.5,659.5 M187.5,648.5 L186.5,651.0 L186.2,655.0 L187.0,658.5 L190.0,660.0 L188.5,662.5 L186.5,665.0 L187.0,667.5 L188.5,669.5 L188.0,672.0 L186.5,673.5 L186.0,675.5 M180.0,668.0 L182.0,669.5 L183.5,672.0 L185.0,674.0 L186.0,675.5 L186.5,680.0 L187.5,679.5 L187.2,675.5 L190.0,674.5 L193.0,674.8 L196.0,675.0 L197.5,675.5 L198.5,674.0 L197.5,677.0 L196.5,679.0 L198.0,677.0 L200.0,676.0 L203.5,676.5 L206.5,678.0 L208.5,680.5 L209.5,683.5 L211.0,686.0 L213.5,688.0 L215.5,689.5 L216.0,686.5 L217.0,684.0 L218.5,683.0 L219.5,685.0 L219.0,687.5 L220.5,689.0 L221.0,690.5 M205.5,690.5 L207.5,688.0 L208.5,690.0 M180.0,667.5 L181.5,669.0 L181.0,672.0 L183.0,673.0 M300.0,663.0 L303.0,660.0 L304.0,656.0 L306.0,653.0 L308.5,651.5 L311.5,651.2 L314.0,651.0 L314.5,648.0 L313.5,645.0 L314.0,642.0 L314.5,639.0 L314.0,636.0 L315.5,633.0 L316.0,630.0 L315.5,627.0 L317.5,625.5 L320.0,623.5 L322.5,621.5 L325.0,619.5 L326.5,617.0 L327.5,615.2 L330.0,616.5 L332.5,618.0 L335.0,618.5 L337.0,619.0 L338.0,617.0 L338.5,614.0 L339.0,611.5 L341.0,610.8 L342.5,610.2 L344.0,612.2 L347.0,612.2 L351.0,612.2 L355.0,612.2 L357.0,610.0 L359.5,608.0 L362.0,605.8 L364.5,604.0 L367.0,602.5 L369.5,601.2 L372.0,600.5 L373.5,598.5 L374.5,596.0 L374.5,592.5 L376.5,592.2 L378.0,590.5 L380.5,589.0 L383.0,587.5 L385.5,587.2 L388.0,588.5 L390.5,590.0 L391.8,592.5 L392.5,595.5 L391.5,598.0 L389.5,600.0 L387.5,601.5 L385.0,602.5 L382.5,603.5 L380.0,604.2 L377.5,604.8 M378.0,592.0 L380.0,590.0 L382.5,589.0 M314.0,634.5 L315.0,636.5 M377.5,604.8 L378.5,606.5 L377.5,608.5 L378.0,610.0 L379.5,613.0 L381.0,615.5 L382.5,618.0 L383.5,620.0 L384.0,622.5 L384.5,625.0 L385.0,627.5 M384.5,628.0 L382.5,630.0 L381.0,632.5 L379.5,635.5 L378.0,638.0 L376.5,640.0 L375.5,643.0 L376.5,645.5 L377.5,648.0 L379.0,650.5 L380.5,652.0 L382.0,654.0 L381.5,656.0 L382.5,658.5 L385.0,659.5 L387.5,659.0 L390.0,657.5 L392.0,655.0 L393.5,652.0 L394.2,649.0 L394.5,645.5 L393.5,642.0 L392.0,639.0 L390.0,636.0 L388.5,633.5 L387.0,631.0 L385.5,629.0 L384.5,628.0 M383.5,622.0 L385.0,625.0 L384.0,627.0 M377.0,648.0 L378.5,649.0 M385.0,623.0 L386.5,619.5 L389.0,618.5 L392.0,617.0 L395.0,615.5 L398.0,614.0 L401.0,613.0 L404.0,611.8 L407.0,610.5 L410.0,609.2 M377.5,604.8 L376.0,607.5 L374.5,610.0 L373.0,612.5 L372.0,615.0 L369.5,615.2 L368.0,617.5 L366.5,620.0 L365.0,623.0 L363.5,626.0 L362.0,629.0 L361.5,632.0 L361.2,635.0 L361.0,638.0 L360.5,641.0 L359.5,644.0 L358.0,647.0 L356.5,650.0 L355.0,653.0 L353.5,655.5 L355.5,656.2 L358.0,655.0 L359.5,654.5 L360.5,656.5 L362.5,657.5 L363.5,660.0 M331.5,623.0 L332.5,620.5 L334.0,619.0 L336.5,619.5 L336.0,622.0 L335.0,623.5 L331.5,623.0 M332.5,621.5 L335.0,622.5 M410.0,609.0 L413.0,608.5 L415.0,609.0 L416.5,607.0 L418.5,608.0 L421.5,607.5 L424.5,606.8 L427.0,607.5 L430.0,608.8 L433.5,610.0 L436.0,611.5 L438.5,613.5 L440.5,615.5 L441.5,618.5 L441.5,621.0 L442.5,623.5 L443.0,626.5 L444.5,628.5 L447.0,629.2 L450.5,629.0 L454.0,628.5 L457.5,627.8 L461.0,627.0 L464.5,626.2 L468.0,626.2 L472.0,626.2 L476.0,626.2 L479.5,626.2 L480.0,626.8 M410.0,609.0 L408.5,606.5 L407.5,603.0 L407.2,599.5 L408.0,596.5 L410.0,594.0 L412.5,593.0 L414.5,594.0 L415.5,597.0 L416.0,600.5 L416.5,604.0 L416.5,607.0 M410.5,604.5 L416.0,604.0 M412.0,607.5 L415.0,609.5 L416.5,607.0 M427.0,589.5 L428.0,591.0 L429.0,593.0 L430.5,594.8 L432.5,596.0 L434.5,595.5 L433.5,594.0 L431.5,593.5 L430.0,592.5 M440.0,590.0 L441.5,591.0 L443.0,592.5 L443.8,595.0 L443.2,597.5 L442.2,596.0 L441.8,594.0 L441.0,592.0 L440.0,590.0 M441.0,619.0 L442.0,622.0 M480.0,628.0 L483.0,631.7 L486.7,634.0 L491.2,635.8 L495.0,637.3 L498.7,638.2 L503.2,637.0 L505.5,634.7 L508.5,633.2 L510.7,631.0 L512.2,628.3 L514.5,626.8 L517.5,626.5 M512.2,626.5 L516.0,625.7 L521.2,625.7 L525.0,625.4 L529.5,624.2 L534.0,623.8 L540.0,623.5 L546.0,623.5 L550.5,623.8 L554.2,623.5 L555.0,624.7 L550.5,625.7 L546.0,626.8 L541.5,627.7 L537.7,628.0 L535.5,629.2 L534.7,631.7 L535.2,634.7 L534.7,637.7 L537.7,638.5 L540.7,637.7 L541.8,634.7 L540.0,631.7 L537.7,631.0 L536.2,631.7 M512.2,627.2 L515.2,628.0 L519.7,627.7 L523.5,628.3 L522.0,629.5 L517.5,629.2 L513.7,629.2 L512.2,627.2 M541.8,634.7 L543.7,637.7 L544.5,640.7 L546.0,643.7 L548.2,646.0 L549.7,643.0 L549.0,640.0 L551.2,639.2 L553.5,641.5 L555.0,644.5 L556.2,646.7 L557.2,643.0 L559.5,641.5 L561.7,643.7 L564.0,646.7 L567.0,648.2 L570.0,649.0 L572.7,651.2 L573.7,653.5 L571.5,655.7 L569.2,658.7 L567.7,662.5 L567.0,666.2 L566.2,670.0 L564.0,671.5 L561.0,670.0 L558.3,668.5 L561.7,670.7 L564.7,672.2 L567.7,670.7 L570.7,669.7 L574.5,668.8 L578.2,669.2 M548.2,639.2 L550.5,640.7 L549.7,643.7 M558.3,624.2 L561.7,623.2 L566.2,622.3 L570.7,621.2 L571.8,623.5 L570.3,626.8 L570.0,631.0 L569.7,634.7 L568.5,637.0 L564.7,637.3 L560.2,637.7 L556.5,638.2 L554.7,637.7 L557.2,636.2 L560.2,634.7 L561.7,631.7 L561.7,628.0 L561.0,625.0 L558.3,624.2 M572.2,615.2 L574.2,613.0 L576.3,611.5 L577.5,610.7 M510.0,618.2 L512.2,616.0 L515.2,617.5 L517.5,615.7 L519.3,614.2 L520.8,616.7 L520.2,619.3 L518.2,620.5 L516.0,622.0 L517.5,624.2 L519.3,625.0 M510.0,618.2 L513.0,619.3 L516.0,620.2 L518.2,620.5 M556.2,595.0 L557.2,593.2 L559.0,592.7 L559.5,595.0 L558.3,597.2 L556.5,596.8 L556.2,595.0 M492.3,620.5 L494.5,618.2 L496.8,620.5 L492.3,620.5 M493.2,619.9 L495.9,619.9 M534.3,690.2 L534.7,687.2 L537.7,686.8 L540.0,686.5 L538.8,688.3 L537.7,690.2 M280.0,297.0 L280.4,298.0 M213.0,443.0 L218.0,444.0 M236.0,436.0 L241.0,435.0 M275.0,309.0 L275.4,309.4 M235.6,436.4 L241.6,435.0 M561.6,522.0 L564.0,521.6 L565.6,525.0 L565.0,529.6 L563.0,530.4 L561.6,526.0 L561.6,522.0 M565.6,538.0 L569.0,537.6 L571.6,541.0 L572.4,545.0 L571.0,547.0 L568.0,544.4 L566.4,541.0 L565.6,538.0 M569.0,555.0 L571.0,553.6 L571.6,558.0 L570.4,560.0 M170.0,524.0 L174.0,527.0 L178.0,529.0 L181.0,532.0 L182.0,536.0 M121.0,598.0 L124.0,602.0 L128.0,607.0 L132.0,611.0 L136.0,615.0 L138.0,620.0 M172.0,538.0 L178.0,535.6 L182.0,536.0 M182.0,536.0 L180.0,540.0 L181.0,546.0 L180.0,552.0 L178.0,558.0 L175.6,563.0 L176.0,569.0 L175.6,576.0 L176.4,582.0 L174.0,586.0 L172.0,592.0 L172.4,598.0 L173.6,604.0 L171.0,609.0 L170.0,614.0 L172.0,620.0 M189.0,546.6 L189.4,547.4 M213.6,568.4 L213.6,569.6 M208.0,585.0 L208.4,587.0 M133.0,595.0 L138.0,594.4 L143.0,598.0 L147.0,603.0 L151.0,609.0 L154.0,614.0 L153.6,617.6 L149.0,618.0 L144.0,615.6 L139.0,612.0 L136.0,607.0 L134.0,601.0 L133.0,595.0 M138.0,620.0 L133.0,612.0 L129.0,608.0 M138.0,619.0 L135.0,621.0 L138.0,623.0 L138.0,627.0 L136.0,631.0 L135.6,635.0 L138.0,639.0 L141.0,642.0 L145.0,644.0 L149.0,648.0 L152.0,645.0 L151.0,641.0 L148.0,638.0 L146.0,634.0 L149.0,636.0 L152.0,639.0 L155.0,641.0 L156.0,645.0 L158.0,648.0 L162.0,650.0 L167.0,652.0 L171.0,656.0 L174.0,660.0 L175.0,665.0 L173.0,669.0 L175.0,672.0 L179.0,673.6 L182.0,672.0 L180.4,669.0 M138.0,616.0 L144.0,615.6 L150.0,617.0 L156.0,618.0 L161.0,620.0 L166.0,623.0 L172.0,623.6 L174.4,624.0 M172.0,619.0 L175.0,624.0 L178.0,630.0 L180.0,633.0 M363.6,660.0 L364.4,665.0 L366.0,669.0 L368.4,672.0 L370.4,676.0 L371.6,680.0 L370.0,684.0 L369.0,690.0 M568.0,541.0 L571.0,540.0 L572.4,545.0 L571.0,547.0 L569.0,544.0 L568.0,541.0 M568.4,555.0 L570.4,553.6 L571.6,557.0 L571.0,561.0 L569.0,560.0 L568.4,555.0 M565.0,569.6 L567.0,568.4 L567.6,572.0 L566.0,574.0 L565.0,569.6 M511.4,455.2 L511.8,456.0 M503.5,171.5 L505.5,170.0"/>
<path stroke-width="1.4" shape-rendering="geometricPrecision" d="M294.5,313.0 L297.0,315.5 L300.0,317.5 L303.0,319.5 L305.0,322.0 L305.5,325.0 L305.0,328.0 L304.0,330.5 M302.0,328.5 L304.0,329.5 M312.8,331.5 L314.0,334.5 L315.5,337.5 L317.0,340.0 L319.0,341.8 L316.5,342.0 M297.5,339.5 L299.0,340.5 M300.0,343.5 L301.5,345.2 M333.5,342.5 L334.0,344.5 L333.5,346.5 M325.5,352.2 L328.5,351.5 M307.5,352.8 L309.5,355.0 L312.0,356.8 L315.0,358.2 M319.5,352.5 L320.5,355.5 L321.8,359.0 L322.5,362.0 L322.8,364.5 M325.0,364.5 L326.5,366.5 L327.5,369.5 M345.5,364.5 L347.5,365.0 M350.5,374.5 L351.5,375.5 M376.5,389.0 L379.5,388.8 M344.5,377.5 L343.0,379.5 L340.5,381.5 L338.5,383.5 L337.0,384.5 M369.5,394.0 L369.5,395.5 M371.0,390.5 L372.5,392.0 L374.0,391.0 M376.5,389.0 L379.0,388.5 L381.0,390.0 L382.0,391.5 L384.5,392.0 L386.5,393.5 L387.0,394.5 M392.5,397.5 L392.5,399.5 M448.5,469.4 L449.6,469.4 L449.6,470.3 L448.5,470.3 M493.0,464.2 L495.0,465.2 M489.5,469.2 L492.0,468.5 L494.8,468.2 M499.0,463.5 L501.0,464.0 L502.8,465.0 M504.5,464.5 L506.0,463.2 L507.5,462.5 M509.5,460.8 L511.5,460.8 L511.0,462.5 M510.0,456.0 L511.5,455.2 L512.8,456.2 M502.0,477.5 L507.0,476.8 M531.5,468.2 L533.0,466.8 L534.5,466.2 M537.3,473.3 L537.8,473.7 M535.0,482.5 L536.0,483.5 M548.2,496.2 L549.0,497.5 L549.8,499.5 M115.0,512.5 L116.5,511.0 L118.0,510.0 M121.2,507.0 L123.5,505.0 L126.5,504.2 L129.5,504.0 M133.0,504.0 L135.0,502.5 L135.8,502.0 M411.0,584.5 L412.5,585.8 L414.0,587.2 L414.8,588.5 M427.2,589.5 L428.2,591.5 M440.5,590.5 L442.5,593.0 L443.2,596.5 M470.0,602.5 L471.8,601.5 M478.0,601.2 L480.8,601.5 L480.5,602.8 M561.7,587.2 L562.5,586.3 M564.4,582.2 L565.0,582.7 M506.2,599.5 L507.7,601.7 M513.0,627.7 L522.7,628.6 M480.0,601.4 L480.9,602.5"/>
</g>
</defs>
<g>
<text transform="translate(255.8,37.6) scale(1.13,1)" font-size="19.6" text-anchor="start" textLength="90.71" lengthAdjust="spacing" >al072021</text>
</g>
<g>
<text transform="translate(220.89999999999998,66.6) scale(1.13,1)" font-size="19.6" text-anchor="start" textLength="101.95" lengthAdjust="spacing" >08/14/21</text>
<text transform="translate(355.8,66.6) scale(1.13,1)" font-size="19.6" text-anchor="start" textLength="35.75" lengthAdjust="spacing" >18Z</text>
</g>
<g>
<text transform="translate(873.8000000000001,37.6) scale(1.13,1)" font-size="19.6" text-anchor="start" textLength="90.71" lengthAdjust="spacing" >al072021</text>
</g>
<g>
<text transform="translate(838.9000000000001,66.6) scale(1.13,1)" font-size="19.6" text-anchor="start" textLength="101.95" lengthAdjust="spacing" >08/14/21</text>
<text transform="translate(973.8000000000001,66.6) scale(1.13,1)" font-size="19.6" text-anchor="start" textLength="35.75" lengthAdjust="spacing" >18Z</text>
</g>
<g>
<text transform="translate(62.900000000000006,109.6) scale(1.13,1)" font-size="19.6" text-anchor="start" textLength="11.24" lengthAdjust="spacing" >0</text>
<text transform="translate(78.4,109.6) scale(1.0,1)" font-size="19.6" text-anchor="start" textLength="17.80" lengthAdjust="spacingAndGlyphs" >&#8722;</text>
<text transform="translate(100.7,109.6) scale(1.13,1)" font-size="19.6" text-anchor="start" textLength="46.46" lengthAdjust="spacing" >120h</text>
<text transform="translate(166.39999999999998,109.6) scale(1.13,1)" font-size="19.6" text-anchor="start" textLength="46.02" lengthAdjust="spacing" >50kt</text>
<text transform="translate(230.1,109.6) scale(1.13,1)" font-size="19.6" text-anchor="start" textLength="43.27" lengthAdjust="spacing" >Cum</text>
<text transform="translate(293.2,109.6) scale(1.13,1)" font-size="19.6" text-anchor="start" textLength="44.87" lengthAdjust="spacing" >Wind</text>
<text transform="translate(358.09999999999997,109.6) scale(1.13,1)" font-size="19.6" text-anchor="start" textLength="59.12" lengthAdjust="spacing" >Speed</text>
<text transform="translate(439.7,109.6) scale(1.13,1)" font-size="19.6" text-anchor="start" textLength="56.73" lengthAdjust="spacing" >Probs</text>
<text transform="translate(518.0,109.6) scale(1.13,1)" font-size="19.6" text-anchor="start" textLength="31.15" lengthAdjust="spacing" >(%)</text>
</g>
<g>
<text transform="translate(260.2,139.6) scale(1.13,1)" font-size="19.6" text-anchor="start" textLength="47.08" lengthAdjust="spacing" >Radii</text>
<text transform="translate(327.59999999999997,139.6) scale(1.13,1)" font-size="19.6" text-anchor="start" textLength="26.19" lengthAdjust="spacing" >BC</text>
</g>
<g>
<text transform="translate(674.3000000000001,109.6) scale(1.13,1)" font-size="19.6" text-anchor="start" textLength="11.06" lengthAdjust="spacing" >0</text>
<text transform="translate(689.7,109.6) scale(1.0,1)" font-size="19.6" text-anchor="start" textLength="17.70" lengthAdjust="spacingAndGlyphs" >&#8722;</text>
<text transform="translate(712.2,109.6) scale(1.13,1)" font-size="19.6" text-anchor="start" textLength="46.02" lengthAdjust="spacing" >120h</text>
<text transform="translate(778.8000000000001,109.6) scale(1.13,1)" font-size="19.6" text-anchor="start" textLength="23.81" lengthAdjust="spacing" >50</text>
<text transform="translate(820.9000000000001,109.6) scale(1.13,1)" font-size="19.6" text-anchor="start" textLength="18.76" lengthAdjust="spacing" >kt</text>
<text transform="translate(855.2,109.6) scale(1.13,1)" font-size="19.6" text-anchor="start" textLength="43.63" lengthAdjust="spacing" >Cum</text>
<text transform="translate(919.0,109.6) scale(1.13,1)" font-size="19.6" text-anchor="start" textLength="43.54" lengthAdjust="spacing" >Wind</text>
<text transform="translate(983.0,109.6) scale(1.13,1)" font-size="19.6" text-anchor="start" textLength="58.41" lengthAdjust="spacing" >Speed</text>
<text transform="translate(1063.8,109.6) scale(1.13,1)" font-size="19.6" text-anchor="start" textLength="56.55" lengthAdjust="spacing" >Probs</text>
<text transform="translate(1142.5,109.6) scale(1.13,1)" font-size="19.6" text-anchor="start" textLength="31.33" lengthAdjust="spacing" >(%)</text>
</g>
<g>
<text transform="translate(820.9000000000001,139.6) scale(1.13,1)" font-size="19.6" text-anchor="start" textLength="37.70" lengthAdjust="spacing" >Rad</text>
<text transform="translate(876.7,139.6) scale(1.13,1)" font-size="19.6" text-anchor="start" textLength="26.55" lengthAdjust="spacing" >BC</text>
<text transform="translate(921.6,139.6) scale(1.0,1)" font-size="19.6" text-anchor="start" textLength="16.20" lengthAdjust="spacingAndGlyphs" >&#8722;</text>
<text transform="translate(953.1,139.6) scale(1.13,1)" font-size="19.6" text-anchor="start" textLength="69.82" lengthAdjust="spacing" >Control</text>
</g>
<rect x="54.0" y="146.0" width="524.0" height="544.6" fill="#aaaaaa"/>
<g clip-path="url(#clipL)"><use href="#coast" x="0" y="0"/></g>
<g fill="#000" shape-rendering="crispEdges"><rect x="53" y="145" width="2" height="547"/><rect x="577" y="145" width="2" height="547"/><rect x="53" y="145" width="526" height="2"/><rect x="53" y="690" width="526" height="2"/></g>
<g stroke="#000" stroke-width="1" shape-rendering="crispEdges">
<line x1="50" y1="660.5" x2="54.0" y2="660.5"/>
<line x1="50" y1="597.5" x2="54.0" y2="597.5"/>
<line x1="50" y1="534.5" x2="54.0" y2="534.5"/>
<line x1="50" y1="471.5" x2="54.0" y2="471.5"/>
<line x1="50" y1="408.5" x2="54.0" y2="408.5"/>
<line x1="50" y1="345.5" x2="54.0" y2="345.5"/>
<line x1="50" y1="282.5" x2="54.0" y2="282.5"/>
<line x1="50" y1="219.5" x2="54.0" y2="219.5"/>
<line x1="50" y1="156.5" x2="54.0" y2="156.5"/>
<line x1="62.5" y1="690.6" x2="62.5" y2="696"/>
<line x1="115.5" y1="690.6" x2="115.5" y2="696"/>
<line x1="167.5" y1="690.6" x2="167.5" y2="696"/>
<line x1="220.5" y1="690.6" x2="220.5" y2="696"/>
<line x1="272.5" y1="690.6" x2="272.5" y2="696"/>
<line x1="325.5" y1="690.6" x2="325.5" y2="696"/>
<line x1="377.5" y1="690.6" x2="377.5" y2="696"/>
<line x1="430.5" y1="690.6" x2="430.5" y2="696"/>
<line x1="482.5" y1="690.6" x2="482.5" y2="696"/>
<line x1="535.5" y1="690.6" x2="535.5" y2="696"/>
</g>
<text transform="translate(47.6,664.85) scale(1.0,1)" font-size="12.0" text-anchor="end" textLength="12.90" lengthAdjust="spacingAndGlyphs" >9N</text>
<text transform="translate(47.6,601.85) scale(1.0,1)" font-size="12.0" text-anchor="end" textLength="20.00" lengthAdjust="spacingAndGlyphs" >12N</text>
<text transform="translate(47.6,538.85) scale(1.0,1)" font-size="12.0" text-anchor="end" textLength="20.00" lengthAdjust="spacingAndGlyphs" >15N</text>
<text transform="translate(47.6,475.85) scale(1.0,1)" font-size="12.0" text-anchor="end" textLength="20.00" lengthAdjust="spacingAndGlyphs" >18N</text>
<text transform="translate(47.6,412.85) scale(1.0,1)" font-size="12.0" text-anchor="end" textLength="20.00" lengthAdjust="spacingAndGlyphs" >21N</text>
<text transform="translate(47.6,349.85) scale(1.0,1)" font-size="12.0" text-anchor="end" textLength="20.00" lengthAdjust="spacingAndGlyphs" >24N</text>
<text transform="translate(47.6,286.85) scale(1.0,1)" font-size="12.0" text-anchor="end" textLength="20.00" lengthAdjust="spacingAndGlyphs" >27N</text>
<text transform="translate(47.6,223.85) scale(1.0,1)" font-size="12.0" text-anchor="end" textLength="20.00" lengthAdjust="spacingAndGlyphs" >30N</text>
<text transform="translate(47.6,160.85) scale(1.0,1)" font-size="12.0" text-anchor="end" textLength="20.00" lengthAdjust="spacingAndGlyphs" >33N</text>
<text transform="translate(63.1,706.8) scale(1.0,1)" font-size="12.0" text-anchor="middle" textLength="20.80" lengthAdjust="spacingAndGlyphs" >90W</text>
<text transform="translate(115.6,706.8) scale(1.0,1)" font-size="12.0" text-anchor="middle" textLength="20.80" lengthAdjust="spacingAndGlyphs" >87W</text>
<text transform="translate(168.1,706.8) scale(1.0,1)" font-size="12.0" text-anchor="middle" textLength="20.80" lengthAdjust="spacingAndGlyphs" >84W</text>
<text transform="translate(220.6,706.8) scale(1.0,1)" font-size="12.0" text-anchor="middle" textLength="20.80" lengthAdjust="spacingAndGlyphs" >81W</text>
<text transform="translate(273.1,706.8) scale(1.0,1)" font-size="12.0" text-anchor="middle" textLength="20.80" lengthAdjust="spacingAndGlyphs" >78W</text>
<text transform="translate(325.6,706.8) scale(1.0,1)" font-size="12.0" text-anchor="middle" textLength="20.80" lengthAdjust="spacingAndGlyphs" >75W</text>
<text transform="translate(378.1,706.8) scale(1.0,1)" font-size="12.0" text-anchor="middle" textLength="20.80" lengthAdjust="spacingAndGlyphs" >72W</text>
<text transform="translate(430.6,706.8) scale(1.0,1)" font-size="12.0" text-anchor="middle" textLength="20.80" lengthAdjust="spacingAndGlyphs" >69W</text>
<text transform="translate(483.1,706.8) scale(1.0,1)" font-size="12.0" text-anchor="middle" textLength="20.80" lengthAdjust="spacingAndGlyphs" >66W</text>
<text transform="translate(535.6,706.8) scale(1.0,1)" font-size="12.0" text-anchor="middle" textLength="20.80" lengthAdjust="spacingAndGlyphs" >63W</text>
<rect x="672.0" y="146.0" width="524.0" height="544.6" fill="#ffffff"/>
<g clip-path="url(#clipR)">
<g shape-rendering="crispEdges" stroke="none">
<polygon fill="#c8c8ff" points="747.7,324.5 759.2,308.0 768.8,316.8 772.0,304.0 778.4,298.4 784.8,296.8 794.4,306.4 801.6,300.0 806.4,300.8 811.2,314.4 820.0,307.5 829.6,310.4 837.6,311.2 845.6,307.2 850.4,310.4 855.2,317.6 868.0,315.2 880.8,315.3 887.2,320.4 892.8,324.4 898.4,321.2 908.0,322.0 914.4,326.0 920.8,331.6 927.2,334.0 933.6,339.6 938.4,345.2 941.6,350.8 949.6,354.0 956.0,359.6 962.4,365.2 968.8,371.6 975.2,374.8 983.2,381.2 991.2,386.0 999.2,392.4 1007.2,398.8 1013.6,405.2 1020.0,409.2 1024.8,412.8 1032.8,417.6 1039.2,426.4 1048.8,431.2 1058.4,438.4 1064.8,444.0 1074.4,444.0 1082.4,450.4 1090.4,458.4 1100.0,460.8 1104.0,462.4 1112.0,466.4 1120.0,471.2 1129.6,476.0 1139.2,483.2 1148.8,484.0 1158.4,491.2 1166.4,498.4 1174.4,503.2 1163.2,512.8 1152.0,513.6 1139.2,514.4 1126.4,514.4 1115.2,514.4 1107.2,512.0 1099.2,509.6 1088.0,509.6 1078.4,511.2 1068.8,512.0 1056.0,512.0 1046.4,509.6 1040.0,507.2 1013.6,506.4 1002.4,501.6 991.2,494.4 978.4,490.4 970.4,482.4 960.8,481.6 949.6,481.1 940.0,480.5 933.6,478.4 924.0,475.2 919.2,471.2 912.8,467.2 903.2,465.6 892.0,463.2 884.0,463.2 877.6,460.0 869.6,454.4 861.6,448.8 850.4,445.6 840.8,441.6 828.0,441.6 817.6,440.0 819.2,429.6 812.0,422.4 804.0,419.2 791.2,419.2 791.2,408.8 788.0,396.0 785.6,389.6 784.8,382.4 780.0,374.4 774.4,365.6 768.0,362.4 760.0,365.1 756.8,356.0 751.2,345.6 753.6,335.2"/>
<polygon fill="#ffffff" points="763.2,335.2 768.5,329.9 772.0,334.4 768.0,338.9"/>
<polygon fill="#6e6eff" points="836.0,355.6 842.4,352.4 855.2,346.0 864.8,352.4 872.8,350.0 880.8,354.8 890.4,355.9 900.0,359.6 916.0,362.0 925.6,367.6 935.2,374.8 941.6,379.6 951.2,381.2 960.8,386.8 970.4,391.6 983.2,399.2 991.2,407.2 995.2,413.6 997.6,420.0 997.9,428.0 1001.6,436.0 1004.8,440.5 1012.0,441.6 1021.6,448.0 1031.2,445.3 1037.6,447.2 1044.0,450.4 1052.0,450.4 1058.4,453.6 1068.0,455.5 1076.0,460.0 1084.0,463.2 1093.6,467.7 1100.0,469.6 1104.0,473.6 1110.4,475.2 1118.4,480.8 1126.4,485.6 1136.0,489.6 1144.0,491.2 1150.4,496.0 1156.8,502.4 1150.4,506.4 1139.2,507.2 1126.4,506.4 1116.8,504.8 1107.2,506.4 1099.2,508.8 1091.2,508.8 1083.2,506.4 1072.0,504.0 1059.2,501.6 1049.6,500.0 1040.0,498.4 1026.4,500.0 1015.2,496.0 1004.0,492.0 994.4,485.6 986.4,482.4 976.8,476.0 967.2,472.0 956.0,469.6 949.6,463.2 940.0,460.8 936.8,458.4 930.4,452.8 924.0,448.0 914.4,448.8 908.0,445.6 898.4,441.6 888.8,434.4 879.2,426.4 873.6,417.6 874.4,406.8 876.0,401.2 878.4,396.4 875.2,393.2 871.2,388.4 873.6,384.1 881.6,385.2 886.4,398.0 889.1,398.8 892.8,394.0 896.0,386.8 893.6,379.6 890.4,372.4 880.0,368.4 872.8,361.2 865.1,367.1 860.8,361.2 852.0,358.5 838.4,360.4"/>
<polygon fill="#6e6eff" points="861.9,398.0 868.0,396.4 865.1,399.8"/>
<polygon fill="#0000ff" points="922.4,398.0 925.6,393.2 935.2,392.1 943.2,395.6 948.0,400.4 957.6,402.8 967.2,408.4 972.0,414.8 973.6,422.8 974.4,426.4 978.4,434.4 988.0,439.2 994.4,444.0 1000.8,450.4 1012.0,454.4 1024.8,455.2 1036.0,453.6 1045.6,453.3 1055.2,456.8 1061.6,460.0 1071.2,462.4 1080.8,467.2 1090.4,472.0 1100.0,474.4 1107.2,476.0 1115.2,481.6 1123.2,486.4 1131.2,488.8 1138.4,492.0 1136.0,495.2 1129.6,499.2 1121.6,500.0 1112.0,502.4 1104.0,504.8 1092.8,504.8 1083.2,503.2 1072.0,500.0 1059.2,496.8 1049.6,495.2 1040.0,492.8 1026.4,492.8 1015.2,488.8 1004.0,482.4 994.4,476.0 984.8,469.6 975.2,461.6 965.6,453.6 956.0,444.0 946.4,436.0 943.2,434.0 939.2,426.0 936.8,420.4 938.4,415.6 943.2,410.0 942.4,407.3 930.4,408.1 925.6,404.4"/>
<polygon fill="#00006e" points="1034.4,471.2 1040.8,467.2 1052.0,467.7 1061.6,468.0 1071.2,471.2 1084.0,476.0 1100.0,480.8 1100.8,483.2 1107.2,488.8 1111.2,492.8 1104.0,495.2 1094.4,494.4 1084.8,493.6 1072.0,490.4 1059.2,488.0 1049.6,486.4 1045.6,485.6 1039.2,477.6"/>
</g>
</g>
<g stroke="#aaaaaa" stroke-width="1" stroke-dasharray="2 4.5" shape-rendering="crispEdges" fill="none">
<line x1="680.5" y1="147.0" x2="680.5" y2="689.6"/>
<line x1="733.5" y1="147.0" x2="733.5" y2="689.6"/>
<line x1="785.5" y1="147.0" x2="785.5" y2="689.6"/>
<line x1="838.5" y1="147.0" x2="838.5" y2="689.6"/>
<line x1="890.5" y1="147.0" x2="890.5" y2="689.6"/>
<line x1="943.5" y1="147.0" x2="943.5" y2="689.6"/>
<line x1="995.5" y1="147.0" x2="995.5" y2="689.6"/>
<line x1="1048.5" y1="147.0" x2="1048.5" y2="689.6"/>
<line x1="1100.5" y1="147.0" x2="1100.5" y2="689.6"/>
<line x1="1153.5" y1="147.0" x2="1153.5" y2="689.6"/>
<line x1="673.0" y1="660.5" x2="1195.0" y2="660.5"/>
<line x1="673.0" y1="597.5" x2="1195.0" y2="597.5"/>
<line x1="673.0" y1="534.5" x2="1195.0" y2="534.5"/>
<line x1="673.0" y1="471.5" x2="1195.0" y2="471.5"/>
<line x1="673.0" y1="408.5" x2="1195.0" y2="408.5"/>
<line x1="673.0" y1="345.5" x2="1195.0" y2="345.5"/>
<line x1="673.0" y1="282.5" x2="1195.0" y2="282.5"/>
<line x1="673.0" y1="219.5" x2="1195.0" y2="219.5"/>
<line x1="673.0" y1="156.5" x2="1195.0" y2="156.5"/>
</g>
<g clip-path="url(#clipR)"><use href="#coast" x="618" y="0"/></g>
<g fill="#000" shape-rendering="crispEdges"><rect x="671" y="145" width="2" height="547"/><rect x="1195" y="145" width="2" height="547"/><rect x="671" y="145" width="526" height="2"/><rect x="671" y="690" width="526" height="2"/></g>
<g stroke="#000" stroke-width="1" shape-rendering="crispEdges">
<line x1="668" y1="660.5" x2="672.0" y2="660.5"/>
<line x1="668" y1="597.5" x2="672.0" y2="597.5"/>
<line x1="668" y1="534.5" x2="672.0" y2="534.5"/>
<line x1="668" y1="471.5" x2="672.0" y2="471.5"/>
<line x1="668" y1="408.5" x2="672.0" y2="408.5"/>
<line x1="668" y1="345.5" x2="672.0" y2="345.5"/>
<line x1="668" y1="282.5" x2="672.0" y2="282.5"/>
<line x1="668" y1="219.5" x2="672.0" y2="219.5"/>
<line x1="668" y1="156.5" x2="672.0" y2="156.5"/>
<line x1="680.5" y1="690.6" x2="680.5" y2="696"/>
<line x1="733.5" y1="690.6" x2="733.5" y2="696"/>
<line x1="785.5" y1="690.6" x2="785.5" y2="696"/>
<line x1="838.5" y1="690.6" x2="838.5" y2="696"/>
<line x1="890.5" y1="690.6" x2="890.5" y2="696"/>
<line x1="943.5" y1="690.6" x2="943.5" y2="696"/>
<line x1="995.5" y1="690.6" x2="995.5" y2="696"/>
<line x1="1048.5" y1="690.6" x2="1048.5" y2="696"/>
<line x1="1100.5" y1="690.6" x2="1100.5" y2="696"/>
<line x1="1153.5" y1="690.6" x2="1153.5" y2="696"/>
</g>
<text transform="translate(665.6,664.85) scale(1.0,1)" font-size="12.0" text-anchor="end" textLength="12.90" lengthAdjust="spacingAndGlyphs" >9N</text>
<text transform="translate(665.6,601.85) scale(1.0,1)" font-size="12.0" text-anchor="end" textLength="20.00" lengthAdjust="spacingAndGlyphs" >12N</text>
<text transform="translate(665.6,538.85) scale(1.0,1)" font-size="12.0" text-anchor="end" textLength="20.00" lengthAdjust="spacingAndGlyphs" >15N</text>
<text transform="translate(665.6,475.85) scale(1.0,1)" font-size="12.0" text-anchor="end" textLength="20.00" lengthAdjust="spacingAndGlyphs" >18N</text>
<text transform="translate(665.6,412.85) scale(1.0,1)" font-size="12.0" text-anchor="end" textLength="20.00" lengthAdjust="spacingAndGlyphs" >21N</text>
<text transform="translate(665.6,349.85) scale(1.0,1)" font-size="12.0" text-anchor="end" textLength="20.00" lengthAdjust="spacingAndGlyphs" >24N</text>
<text transform="translate(665.6,286.85) scale(1.0,1)" font-size="12.0" text-anchor="end" textLength="20.00" lengthAdjust="spacingAndGlyphs" >27N</text>
<text transform="translate(665.6,223.85) scale(1.0,1)" font-size="12.0" text-anchor="end" textLength="20.00" lengthAdjust="spacingAndGlyphs" >30N</text>
<text transform="translate(665.6,160.85) scale(1.0,1)" font-size="12.0" text-anchor="end" textLength="20.00" lengthAdjust="spacingAndGlyphs" >33N</text>
<text transform="translate(681.1,706.8) scale(1.0,1)" font-size="12.0" text-anchor="middle" textLength="20.80" lengthAdjust="spacingAndGlyphs" >90W</text>
<text transform="translate(733.6,706.8) scale(1.0,1)" font-size="12.0" text-anchor="middle" textLength="20.80" lengthAdjust="spacingAndGlyphs" >87W</text>
<text transform="translate(786.1,706.8) scale(1.0,1)" font-size="12.0" text-anchor="middle" textLength="20.80" lengthAdjust="spacingAndGlyphs" >84W</text>
<text transform="translate(838.6,706.8) scale(1.0,1)" font-size="12.0" text-anchor="middle" textLength="20.80" lengthAdjust="spacingAndGlyphs" >81W</text>
<text transform="translate(891.1,706.8) scale(1.0,1)" font-size="12.0" text-anchor="middle" textLength="20.80" lengthAdjust="spacingAndGlyphs" >78W</text>
<text transform="translate(943.6,706.8) scale(1.0,1)" font-size="12.0" text-anchor="middle" textLength="20.80" lengthAdjust="spacingAndGlyphs" >75W</text>
<text transform="translate(996.1,706.8) scale(1.0,1)" font-size="12.0" text-anchor="middle" textLength="20.80" lengthAdjust="spacingAndGlyphs" >72W</text>
<text transform="translate(1048.6,706.8) scale(1.0,1)" font-size="12.0" text-anchor="middle" textLength="20.80" lengthAdjust="spacingAndGlyphs" >69W</text>
<text transform="translate(1101.1,706.8) scale(1.0,1)" font-size="12.0" text-anchor="middle" textLength="20.80" lengthAdjust="spacingAndGlyphs" >66W</text>
<text transform="translate(1153.6,706.8) scale(1.0,1)" font-size="12.0" text-anchor="middle" textLength="20.80" lengthAdjust="spacingAndGlyphs" >63W</text>
<g shape-rendering="crispEdges">
<polygon points="98.0,719.5 58.5,728.0 98.0,735.3" fill="#aaaaaa" stroke="#000" stroke-width="1" stroke-dasharray="3 2"/>
<polygon points="510.5,719.5 552.5,728.0 510.5,735.3" fill="#aaaaaa" stroke="#000" stroke-width="1" stroke-dasharray="3 2"/>
<rect x="98.00" y="719.5" width="41.25" height="15.80" fill="#009600" stroke="#000" stroke-width="1"/>
<rect x="139.25" y="719.5" width="41.25" height="15.80" fill="#00dc00" stroke="#000" stroke-width="1"/>
<rect x="180.50" y="719.5" width="41.25" height="15.80" fill="#a0e632" stroke="#000" stroke-width="1"/>
<rect x="221.75" y="719.5" width="41.25" height="15.80" fill="#faf03c" stroke="#000" stroke-width="1"/>
<rect x="263.00" y="719.5" width="41.25" height="15.80" fill="#e6dc32" stroke="#000" stroke-width="1"/>
<rect x="304.25" y="719.5" width="41.25" height="15.80" fill="#e6af2d" stroke="#000" stroke-width="1"/>
<rect x="345.50" y="719.5" width="41.25" height="15.80" fill="#f08228" stroke="#000" stroke-width="1"/>
<rect x="386.75" y="719.5" width="41.25" height="15.80" fill="#fa3c3c" stroke="#000" stroke-width="1"/>
<rect x="428.00" y="719.5" width="41.25" height="15.80" fill="#960000" stroke="#000" stroke-width="1"/>
<rect x="469.25" y="719.5" width="41.25" height="15.80" fill="#8200dc" stroke="#000" stroke-width="1"/>
</g>
<text transform="translate(98.5,748.9) scale(1.0,1)" font-size="13.5" text-anchor="middle" >5</text>
<text transform="translate(140.75,748.9) scale(1.0,1)" font-size="13.5" text-anchor="middle" textLength="15.20" lengthAdjust="spacing" >10</text>
<text transform="translate(182.0,748.9) scale(1.0,1)" font-size="13.5" text-anchor="middle" textLength="16.40" lengthAdjust="spacing" >20</text>
<text transform="translate(223.25,748.9) scale(1.0,1)" font-size="13.5" text-anchor="middle" textLength="16.40" lengthAdjust="spacing" >30</text>
<text transform="translate(264.5,748.9) scale(1.0,1)" font-size="13.5" text-anchor="middle" textLength="16.40" lengthAdjust="spacing" >40</text>
<text transform="translate(305.75,748.9) scale(1.0,1)" font-size="13.5" text-anchor="middle" textLength="16.40" lengthAdjust="spacing" >50</text>
<text transform="translate(347.0,748.9) scale(1.0,1)" font-size="13.5" text-anchor="middle" textLength="16.40" lengthAdjust="spacing" >60</text>
<text transform="translate(388.25,748.9) scale(1.0,1)" font-size="13.5" text-anchor="middle" textLength="16.40" lengthAdjust="spacing" >70</text>
<text transform="translate(429.5,748.9) scale(1.0,1)" font-size="13.5" text-anchor="middle" textLength="16.40" lengthAdjust="spacing" >80</text>
<text transform="translate(470.75,748.9) scale(1.0,1)" font-size="13.5" text-anchor="middle" textLength="16.40" lengthAdjust="spacing" >90</text>
<text transform="translate(512.0,748.9) scale(1.0,1)" font-size="13.5" text-anchor="middle" textLength="24.00" lengthAdjust="spacing" >100</text>
<g shape-rendering="crispEdges">
<polygon points="730.5,719.5 676.5,728.0 730.5,735.3" fill="#00006e" stroke="#00006e" stroke-width="1"/>
<polygon points="1114.6,719.5 1171,728.0 1114.6,735.3" fill="#6e0000" stroke="#6e0000" stroke-width="1"/>
<rect x="730.50" y="719.5" width="54.87" height="15.80" fill="#0000ff" stroke="#000" stroke-width="1"/>
<rect x="785.37" y="719.5" width="54.87" height="15.80" fill="#6e6eff" stroke="#000" stroke-width="1"/>
<rect x="840.24" y="719.5" width="54.87" height="15.80" fill="#c8c8ff" stroke="#000" stroke-width="1"/>
<rect x="895.11" y="719.5" width="54.87" height="15.80" fill="#ffffff" stroke="#000" stroke-width="1"/>
<rect x="949.99" y="719.5" width="54.87" height="15.80" fill="#ffc8c8" stroke="#000" stroke-width="1"/>
<rect x="1004.86" y="719.5" width="54.87" height="15.80" fill="#ff6e6e" stroke="#000" stroke-width="1"/>
<rect x="1059.73" y="719.5" width="54.87" height="15.80" fill="#ff0000" stroke="#000" stroke-width="1"/>
</g>
<g>
<text transform="translate(717.6,748.9) scale(1.0,1)" font-size="13.5" text-anchor="start" textLength="10.80" lengthAdjust="spacingAndGlyphs" >&#8722;</text>
<text transform="translate(730.9,748.9) scale(1.0,1)" font-size="13.5" text-anchor="start" textLength="14.80" lengthAdjust="spacing" >10</text>
</g>
<g>
<text transform="translate(776.4714285714285,748.9) scale(1.0,1)" font-size="13.5" text-anchor="start" textLength="10.80" lengthAdjust="spacingAndGlyphs" >&#8722;</text>
<text transform="translate(787.6714285714285,748.9) scale(1.0,1)" font-size="13.5" text-anchor="start" >5</text>
</g>
<g>
<text transform="translate(831.3428571428572,748.9) scale(1.0,1)" font-size="13.5" text-anchor="start" textLength="10.80" lengthAdjust="spacingAndGlyphs" >&#8722;</text>
<text transform="translate(842.5428571428571,748.9) scale(1.0,1)" font-size="13.5" text-anchor="start" >3</text>
</g>
<g>
<text transform="translate(886.2142857142857,748.9) scale(1.0,1)" font-size="13.5" text-anchor="start" textLength="10.80" lengthAdjust="spacingAndGlyphs" >&#8722;</text>
<text transform="translate(897.4142857142856,748.9) scale(1.0,1)" font-size="13.5" text-anchor="start" >1</text>
</g>
<text transform="translate(951.1857142857143,748.9) scale(1.0,1)" font-size="13.5" text-anchor="middle" >1</text>
<text transform="translate(1006.0571428571428,748.9) scale(1.0,1)" font-size="13.5" text-anchor="middle" >3</text>
<text transform="translate(1060.9285714285713,748.9) scale(1.0,1)" font-size="13.5" text-anchor="middle" >5</text>
<text transform="translate(1116.1,748.9) scale(1.0,1)" font-size="13.5" text-anchor="middle" textLength="15.00" lengthAdjust="spacing" >10</text>
</svg></body></html>
